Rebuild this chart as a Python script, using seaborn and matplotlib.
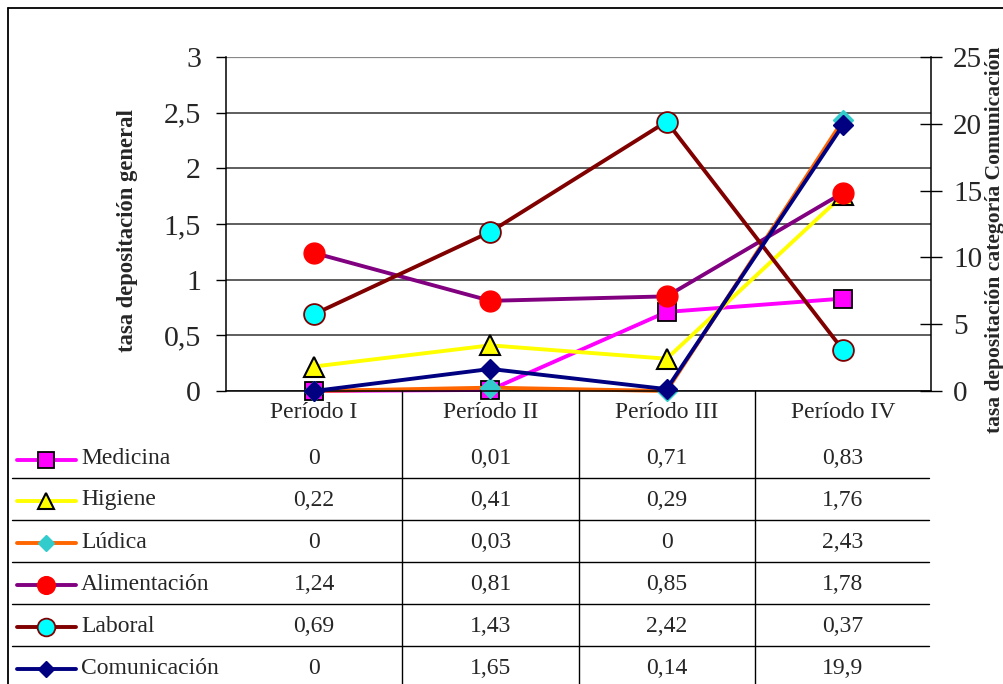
import matplotlib
matplotlib.use("Agg")
import matplotlib.pyplot as plt
import matplotlib.transforms as mtransforms
from matplotlib.lines import Line2D
import seaborn as sns
import pandas as pd

# ---- data ----
periods = ["Período I", "Período II", "Período III", "Período IV"]
series_names = ["Medicina", "Higiene", "Lúdica", "Alimentación", "Laboral", "Comunicación"]
medicina = [0, 0.01, 0.71, 0.83]
higiene = [0.22, 0.41, 0.29, 1.76]
ludica = [0, 0.03, 0, 2.43]
alimentacion = [1.24, 0.81, 0.85, 1.78]
laboral = [0.69, 1.43, 2.42, 0.37]
comunicacion = [0, 1.65, 0.14, 19.9]
left_ticks = [0, 0.5, 1, 1.5, 2, 2.5, 3]
right_ticks = [0, 5, 10, 15, 20, 25]
ylabel_left = "tasa depositación general"
ylabel_right = "tasa depositación categoría Comunicación"

values = [medicina, higiene, ludica, alimentacion, laboral, comunicacion]

styles = {
    "Medicina": dict(color="#FF00FF", marker="s", mfc="#FF00FF", mec="black", ms=13, mew=1.3),
    "Higiene": dict(color="#FFFF00", marker="^", mfc="#FFFF00", mec="black", ms=14, mew=1.5),
    "Lúdica": dict(color="#FF6600", marker="D", mfc="#33CCCC", mec="#33CCCC", ms=10, mew=1),
    "Alimentación": dict(color="#800080", marker="o", mfc="#FF0000", mec="#FF0000", ms=15, mew=1),
    "Laboral": dict(color="#800000", marker="o", mfc="#00FFFF", mec="#800000", ms=15, mew=1.3),
    "Comunicación": dict(color="#000080", marker="D", mfc="#000080", mec="#000080", ms=10, mew=1),
}

sns.set_style("white")
plt.rcParams["font.family"] = ["Liberation Serif", "DejaVu Serif"]

W, H = 1004, 684
fig = plt.figure(figsize=(W / 100, H / 100), dpi=100)

def fx(x):
    return x / W

def fy(y):
    return 1 - y / H

ax = fig.add_axes([fx(226), fy(391), (931 - 226) / W, (391 - 57) / H])
ax2 = ax.twinx()
ax.set_zorder(1)
ax2.set_zorder(2)
ax.patch.set_visible(False)
ax2.patch.set_visible(False)

xs = list(range(len(periods)))
rows = []
for name, vals in zip(series_names, values):
    for p, x, v in zip(periods, xs, vals):
        rows.append(dict(serie=name, periodo=p, x=x, valor=v))
df = pd.DataFrame(rows)

for name in series_names:
    st = styles[name]
    target = ax2 if name == "Comunicación" else ax
    sub = df[df.serie == name]
    sns.lineplot(data=sub, x="x", y="valor", ax=target, color=st["color"], linewidth=2.8,
                 marker=st["marker"], markersize=st["ms"], markerfacecolor=st["mfc"],
                 markeredgecolor=st["mec"], markeredgewidth=st["mew"], clip_on=False,
                 legend=False, estimator=None)

ax.set_xlim(-0.5, 3.5)
ax.set_ylim(0, 3)
ax2.set_ylim(0, 25)
ax.set_yticks(left_ticks)
ax.set_yticklabels([f"{t:g}".replace(".", ",") for t in left_ticks])
ax2.set_yticks(right_ticks)
ax2.set_yticklabels([str(t) for t in right_ticks])
ax.set_xticks(xs)
ax.set_xticklabels([])
ax.tick_params(axis="x", length=0)
ax2.tick_params(axis="x", length=0)
ax.set_xlabel("")
ax.set_ylabel("")
ax2.set_xlabel("")
ax2.set_ylabel("")

for t in left_ticks[:-1]:
    ax.axhline(t, color="#333333", lw=1.1, zorder=0)
ax.axhline(3, color="#888888", lw=1.6, zorder=0)

for s in ["top", "right"]:
    ax.spines[s].set_visible(False)
for s in ["top", "left", "bottom"]:
    ax2.spines[s].set_visible(False)
ax.spines["left"].set_color("black")
ax.spines["bottom"].set_color("black")
ax2.spines["right"].set_color("black")
ax.spines["left"].set_linewidth(1.1)
ax.spines["bottom"].set_linewidth(1.1)
ax2.spines["right"].set_linewidth(1.1)

ax.tick_params(axis="y", direction="out", length=7, width=1, color="black",
               labelsize=21.5, pad=11, left=True)
ax2.tick_params(axis="y", direction="inout", length=16, width=1, color="black",
                labelsize=21, pad=8, right=True)

fig.text(fx(128), fy(231), ylabel_left, rotation=90, ha="center", va="center",
         fontsize=16.3, fontweight="bold")
fig.text(fx(995), fy(240), ylabel_right, rotation=90, ha="center", va="center",
         fontsize=15.5, fontweight="bold")

# ---- data table ----
blend = mtransforms.blended_transform_factory(ax.transData, fig.transFigure)
header_y = 412
row_centers = [459, 500, 542, 584, 626, 668]
row_lines = [478, 520, 562, 604, 646]
col_bounds = [0.5, 1.5, 2.5]

for x, p in zip(xs, periods):
    ax.text(x, fy(header_y), p, transform=blend, ha="center", va="center", fontsize=17,
            clip_on=False)

for name, vals, yc in zip(series_names, values, row_centers):
    for x, v in zip(xs, vals):
        ax.text(x, fy(yc), f"{v:g}".replace(".", ","), transform=blend, ha="center",
                va="center", fontsize=17, clip_on=False)
    st = styles[name]
    fig.add_artist(Line2D([fx(17), fx(76)], [fy(yc + 1), fy(yc + 1)], color=st["color"], lw=2.8))
    fig.add_artist(Line2D([fx(46)], [fy(yc + 1)], marker=st["marker"], ms=st["ms"] * 0.85,
                          mfc=st["mfc"], mec=st["mec"], mew=st["mew"], lw=0))
    fig.text(fx(81), fy(yc), name, ha="left", va="center", fontsize=17)

for yl in row_lines:
    fig.add_artist(Line2D([fx(12), fx(929)], [fy(yl), fy(yl)], color="black", lw=1))
for cb in col_bounds:
    ax.plot([cb, cb], [fy(391), 0], transform=blend, color="black", lw=1, clip_on=False)

# outer border
fig.add_artist(Line2D([fx(8), 1], [fy(8), fy(8)], color="black", lw=1.3))
fig.add_artist(Line2D([fx(8), fx(8)], [fy(8), 0], color="black", lw=1.3))

fig.savefig("out.png", dpi=100, facecolor="white")
